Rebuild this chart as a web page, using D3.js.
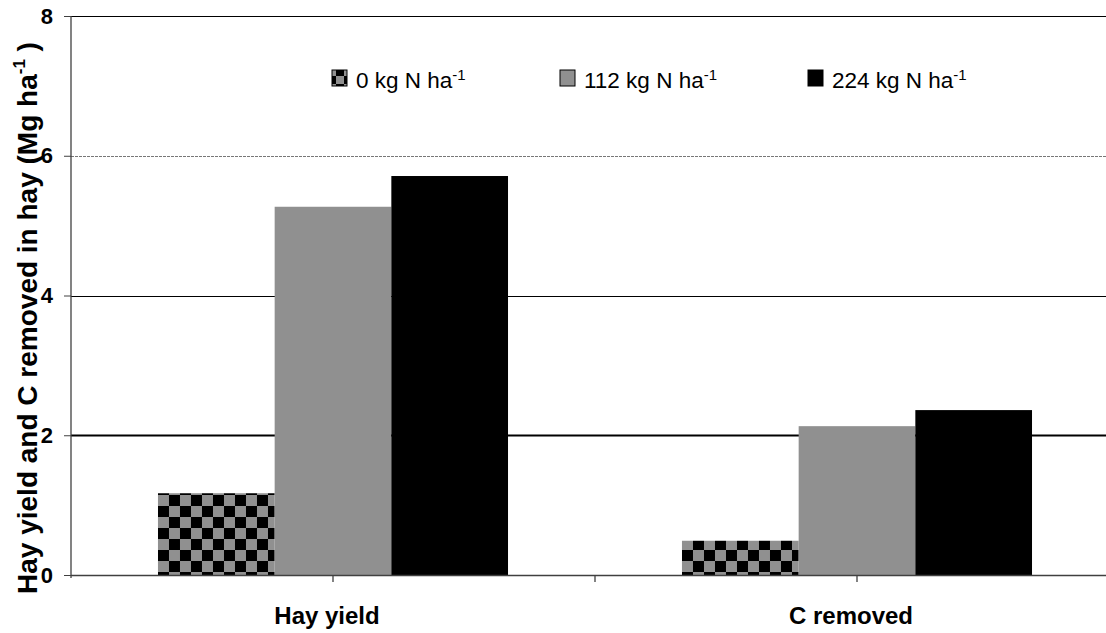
<!DOCTYPE html>
<html><head><meta charset="utf-8">
<script src="https://cdn.jsdelivr.net/npm/d3@7"></script>
<style>body{margin:0;background:#fff}svg{display:block;font-family:"Liberation Sans",Arial,sans-serif}</style>
</head><body>
<svg id="c" width="1106" height="633"></svg>
<script>
const categories = ["Hay yield", "C removed"];
const seriesNames = ["0 kg N ha", "112 kg N ha", "224 kg N ha"];
const seriesKeys = ["n0", "n112", "n224"];
const n0 = [1.17, 0.49];
const n112 = [5.27, 2.13];
const n224 = [5.71, 2.36];
const yTicks = [0, 2, 4, 6, 8];

const values = {n0, n112, n224};
const svg = d3.select("#c");
const L = 71, R = 1119, T = 16, B = 575;
const y = d3.scaleLinear().domain([0, 8]).range([B, T]);
const x0 = d3.scaleBand().domain(categories).range([L, R]).paddingInner(0.332).paddingOuter(0.166);
const x1 = d3.scaleBand().domain(seriesKeys).range([0, x0.bandwidth()]);

const defs = svg.append("defs");
const pat = defs.append("pattern").attr("id", "chk").attr("patternUnits", "userSpaceOnUse")
  .attr("width", 22).attr("height", 22);
pat.append("rect").attr("width", 22).attr("height", 22).attr("fill", "#909090");
pat.append("rect").attr("width", 11).attr("height", 11).attr("fill", "#000");
pat.append("rect").attr("x", 11).attr("y", 11).attr("width", 11).attr("height", 11).attr("fill", "#000");
const patS = defs.append("pattern").attr("id", "chkS").attr("patternUnits", "userSpaceOnUse")
  .attr("width", 16).attr("height", 16).attr("x", 332).attr("y", 70);
patS.append("rect").attr("width", 16).attr("height", 16).attr("fill", "#909090");
patS.append("rect").attr("width", 8).attr("height", 8).attr("fill", "#000");
patS.append("rect").attr("x", 8).attr("y", 8).attr("width", 8).attr("height", 8).attr("fill", "#000");

const fills = {n0: "url(#chk)", n112: "#909090", n224: "#000"};

// gridlines
const gridStyle = {8: [1, "#000", null], 6: [1, "#777", "3,1"], 4: [1.2, "#000", null], 2: [2, "#000", null]};
svg.append("g").selectAll("line").data(yTicks.filter(d => d > 0)).join("line")
  .attr("x1", L).attr("x2", 1106)
  .attr("y1", d => Math.round(y(d)) + 0.5).attr("y2", d => Math.round(y(d)) + 0.5)
  .attr("stroke", d => gridStyle[d][1]).attr("stroke-width", d => gridStyle[d][0])
  .attr("stroke-dasharray", d => gridStyle[d][2]);

// bars
const g = svg.append("g").selectAll("g").data(categories).join("g")
  .attr("transform", d => `translate(${x0(d)},0)`);
g.selectAll("rect").data((c, i) => seriesKeys.map(k => ({k, v: values[k][i]}))).join("rect")
  .attr("x", d => x1(d.k)).attr("width", x1.bandwidth())
  .attr("y", d => y(d.v)).attr("height", d => B - y(d.v))
  .attr("fill", d => fills[d.k]);

// y axis
const ya = svg.append("g").attr("transform", `translate(${L},0)`)
  .call(d3.axisLeft(y).tickValues(yTicks).tickSize(7).tickPadding(11));
ya.select(".domain").attr("stroke", "#404040").attr("stroke-width", 1.3).attr("d", `M0,${T}V${B + 3}`);
ya.selectAll(".tick line").attr("stroke", "#404040");
ya.selectAll("text").attr("font-size", 22).attr("font-weight", "bold").attr("fill", "#000")
  .attr("font-family", "Liberation Sans, Arial, sans-serif");

// x axis
svg.append("line").attr("x1", L).attr("x2", 1106).attr("y1", B + 0.5).attr("y2", B + 0.5)
  .attr("stroke", "#404040").attr("stroke-width", 1.3);
const xTickPos = [x0("Hay yield") + x0.bandwidth() / 2, (x0("Hay yield") + x0("C removed") + x0.bandwidth()) / 2, x0("C removed") + x0.bandwidth() / 2];
svg.append("g").selectAll("line").data(xTickPos).join("line")
  .attr("x1", d => d).attr("x2", d => d).attr("y1", B).attr("y2", B + 7)
  .attr("stroke", "#404040").attr("stroke-width", 1.3);
svg.append("g").selectAll("text").data(categories).join("text")
  .attr("x", d => x0(d) + x0.bandwidth() / 2 - 6).attr("y", 624)
  .attr("text-anchor", "middle").attr("font-size", 24).attr("font-weight", "bold").text(d => d);

// y title
const yt = svg.append("text").attr("transform", "translate(37,318) rotate(-90)")
  .attr("text-anchor", "middle").attr("font-size", 28).attr("font-weight", "bold");
yt.append("tspan").text("Hay yield and C removed in hay (Mg ha");
yt.append("tspan").attr("font-size", 17).attr("dy", -12).text("-1");
yt.append("tspan").attr("dy", 12).text("  )");

// legend
const legX = [332, 560, 808];
const lg = svg.append("g").selectAll("g").data(seriesKeys).join("g")
  .attr("transform", (d, i) => `translate(${legX[i]},70)`);
lg.append("rect").attr("width", 15).attr("height", 16)
  .attr("fill", d => d === "n0" ? "url(#chkS)" : fills[d]).attr("stroke", "#000").attr("stroke-width", 1);
const lt = lg.append("text").attr("x", 24).attr("y", 18).attr("font-size", 22.5);
lt.append("tspan").text((d, i) => seriesNames[i]);
lt.append("tspan").attr("font-size", 15).attr("dy", -8).text("-1");
</script>
</body></html>
